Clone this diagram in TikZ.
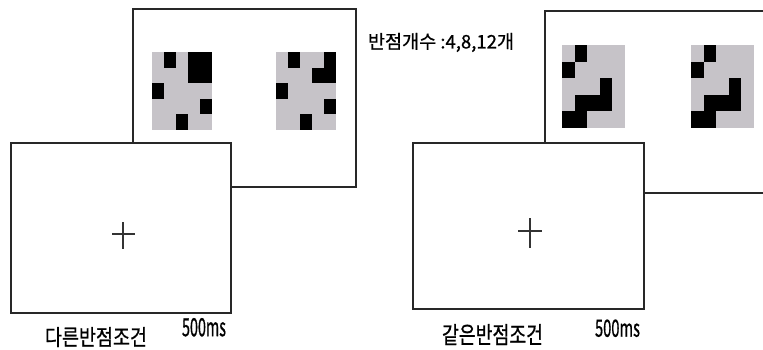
\documentclass[tikz,border=0pt]{standalone}
\usepackage{fontspec}
\usepackage{graphicx}
\setmainfont{Noto Sans CJK KR}
\newfontfamily\lblfont{Noto Sans CJK KR}[FakeBold=0.8]
\definecolor{patgray}{RGB}{198,195,200}
\definecolor{framecol}{RGB}{40,40,40}
\tikzset{
  frame/.style={draw=framecol, line width=1.5pt, fill=white},
  crossline/.style={draw=black!80, line width=1.5pt},
  lbl/.style={inner sep=0pt, outer sep=0pt, anchor=north west, text=black, font=\lblfont},
}
% pattern cell: #1 col, #2 row
\newcommand{\cellbk}[2]{\fill[black] (#1,#2) rectangle ++(1,1);}
\begin{document}
\begin{tikzpicture}[x=1pt,y=-1pt]
\useasboundingbox (0,0) rectangle (763,349);
\clip (0,0) rectangle (763,349);
\fill[white] (0,0) rectangle (763,349);

% ---------- left pair ----------
\draw[frame] (133,9) rectangle (356,187);
\begin{scope}[shift={(152,52)}, x=12pt, y=-15.6pt]
  \fill[patgray] (0,0) rectangle (5,5);
  \cellbk{1}{0}\cellbk{3}{0}\cellbk{4}{0}\cellbk{3}{1}\cellbk{4}{1}
  \cellbk{0}{2}\cellbk{4}{3}\cellbk{2}{4}
\end{scope}
\begin{scope}[shift={(276,52)}, x=12pt, y=-15.6pt]
  \fill[patgray] (0,0) rectangle (5,5);
  \cellbk{1}{0}\cellbk{4}{0}\cellbk{3}{1}\cellbk{4}{1}
  \cellbk{0}{2}\cellbk{4}{3}\cellbk{2}{4}
\end{scope}
\draw[frame] (11,143) rectangle (231,313);
\draw[crossline] (112,234) -- (135,234);
\draw[crossline] (123,222) -- (123,249);

% ---------- right pair ----------
\draw[frame] (545,11) rectangle (775,193);
\begin{scope}[shift={(562,45)}, x=12.5pt, y=-16.6pt]
  \fill[patgray] (0,0) rectangle (5,5);
  \cellbk{1}{0}\cellbk{0}{1}\cellbk{3}{2}\cellbk{1}{3}\cellbk{2}{3}\cellbk{3}{3}
  \cellbk{0}{4}\cellbk{1}{4}
\end{scope}
\begin{scope}[shift={(691,45)}, x=12.6pt, y=-16.6pt]
  \fill[patgray] (0,0) rectangle (5,5);
  \cellbk{1}{0}\cellbk{0}{1}\cellbk{3}{2}\cellbk{1}{3}\cellbk{2}{3}\cellbk{3}{3}
  \cellbk{0}{4}\cellbk{1}{4}
\end{scope}
\draw[frame] (413,143) rectangle (644,309);
\draw[crossline] (518,231) -- (542,231);
\draw[crossline] (530,218) -- (530,248);

% ---------- labels ----------
\node[lbl] (count) at (368,33) {\resizebox*{146pt}{19pt}{반점개수 :4,8,12개}};
\node[lbl] (condL) at (45,327) {\resizebox*{102pt}{20pt}{다른반점조건}};
\node[lbl] (timeL) at (182,318) {\resizebox*{44pt}{18.5pt}{500ms}};
\node[lbl] (condR) at (442,324) {\resizebox*{101pt}{21pt}{같은반점조건}};
\node[lbl] (timeR) at (595,319.5) {\resizebox*{45pt}{17.5pt}{500ms}};
\end{tikzpicture}
\end{document}
